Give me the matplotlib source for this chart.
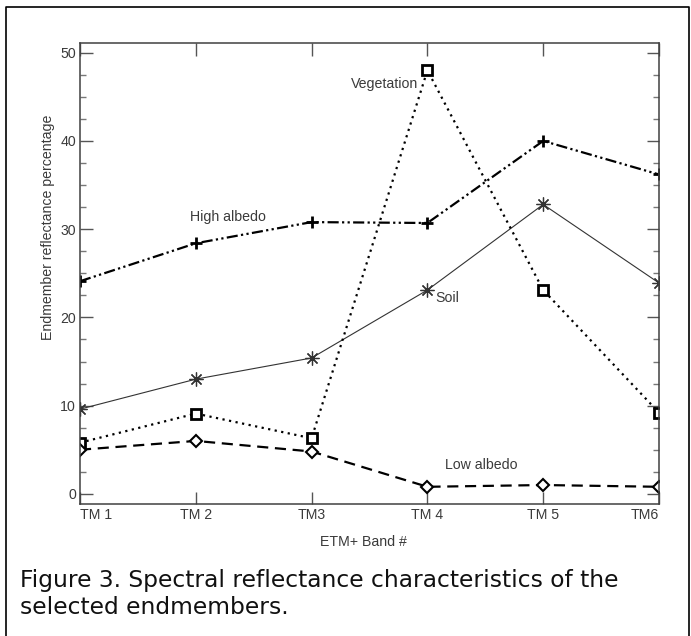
import numpy as np
import matplotlib.pyplot as plt
from matplotlib.ticker import MultipleLocator
from matplotlib.lines import Line2D

bandas = ["TM 1", "TM 2", "TM3", "TM 4", "TM 5", "TM6"]
x = np.arange(1, 7)

alto_albedo = [24.1, 28.4, 30.8, 30.7, 40.0, 36.2]
solo = [9.6, 13.0, 15.4, 23.1, 32.8, 23.9]
vegetacao = [5.8, 9.1, 6.3, 48.0, 23.1, 9.2]
baixo_albedo = [5.0, 6.0, 4.8, 0.8, 1.0, 0.8]

legenda1 = "Figure 3. Spectral reflectance characteristics of the"
legenda2 = "selected endmembers."

plt.rcParams['font.family'] = ['Liberation Sans', 'DejaVu Sans']
cinza = '#3a3a3a'
tam = 10.2

fig = plt.figure(figsize=(6.91, 6.36), dpi=100)
ax = fig.add_axes([80 / 691, 1 - 504 / 636, 579 / 691, 461 / 636])

ax.plot(x, alto_albedo, color='black', lw=1.6, linestyle=(0, (5, 1.5, 1, 1.5, 1, 1.5)),
        marker='+', markersize=8, markeredgewidth=2)
ax.plot(x, solo, color='#333333', lw=0.8, linestyle='-',
        marker=(8, 2, 0), markersize=10, markeredgewidth=0.9)
ax.plot(x, vegetacao, color='black', lw=1.6, linestyle=(0, (1, 2)),
        marker='s', markersize=7, markerfacecolor='white', markeredgewidth=2)
ax.plot(x, baixo_albedo, color='black', lw=1.6, linestyle=(0, (5, 3)),
        marker='D', markersize=6, markerfacecolor='white', markeredgewidth=1.5)

ax.set_xlim(1, 6)
ax.set_ylim(-1.15, 51.1)
ax.set_xticks(x)
ax.set_xticklabels(bandas)
ax.set_yticks(np.arange(0, 51, 10))
ax.yaxis.set_minor_locator(MultipleLocator(2.5))

ax.tick_params(axis='both', which='major', direction='in', length=9, width=1,
               color='#555555', labelcolor=cinza, labelsize=tam, top=True, right=True)
ax.tick_params(axis='y', which='minor', direction='in', length=4.5, width=1,
               color='#777777', right=True)
ax.tick_params(axis='x', pad=3)
ax.tick_params(axis='y', pad=3)

rotulos = ax.get_xticklabels()
rotulos[0].set_horizontalalignment('left')
rotulos[-1].set_horizontalalignment('right')

for lado in ax.spines.values():
    lado.set_color('#404040')
    lado.set_linewidth(1.1)

ax.set_xlabel("ETM+ Band #", fontsize=tam, color=cinza)
ax.xaxis.set_label_coords(0.489, -0.068)
ax.set_ylabel("Endmember reflectance percentage", fontsize=tam, color=cinza)
ax.yaxis.set_label_coords(-0.043, 0.6)

ax.text(3.92, 46.5, "Vegetation", ha='right', va='center', fontsize=tam, color=cinza)
ax.text(1.95, 31.4, "High albedo", ha='left', va='center', fontsize=tam, color=cinza)
ax.text(4.07, 22.2, "Soil", ha='left', va='center', fontsize=tam, color=cinza)
ax.text(4.15, 3.3, "Low albedo", ha='left', va='center', fontsize=tam, color=cinza)

# legenda da figura, ajustada para ocupar a largura do original
t1 = fig.text(20 / 691, 1 - 581 / 636, legenda1, fontsize=15, va='center', ha='left',
              color='#111111', family='DejaVu Sans')
fig.canvas.draw()
largura = t1.get_window_extent().width
t1.set_fontsize(15 * 598 / largura)
fig.text(20 / 691, 1 - 607 / 636, legenda2, fontsize=t1.get_fontsize(), va='center',
         ha='left', color='#111111', family='DejaVu Sans')

# moldura da figura
bx0, bx1, by0 = 6 / 691, 689 / 691, 1 - 7 / 636
moldura = Line2D([bx0, bx0, bx1, bx1], [-0.1, by0, by0, -0.1], transform=fig.transFigure,
                 color='black', lw=1.2)
fig.add_artist(moldura)

fig.savefig("out.png", dpi=100)
